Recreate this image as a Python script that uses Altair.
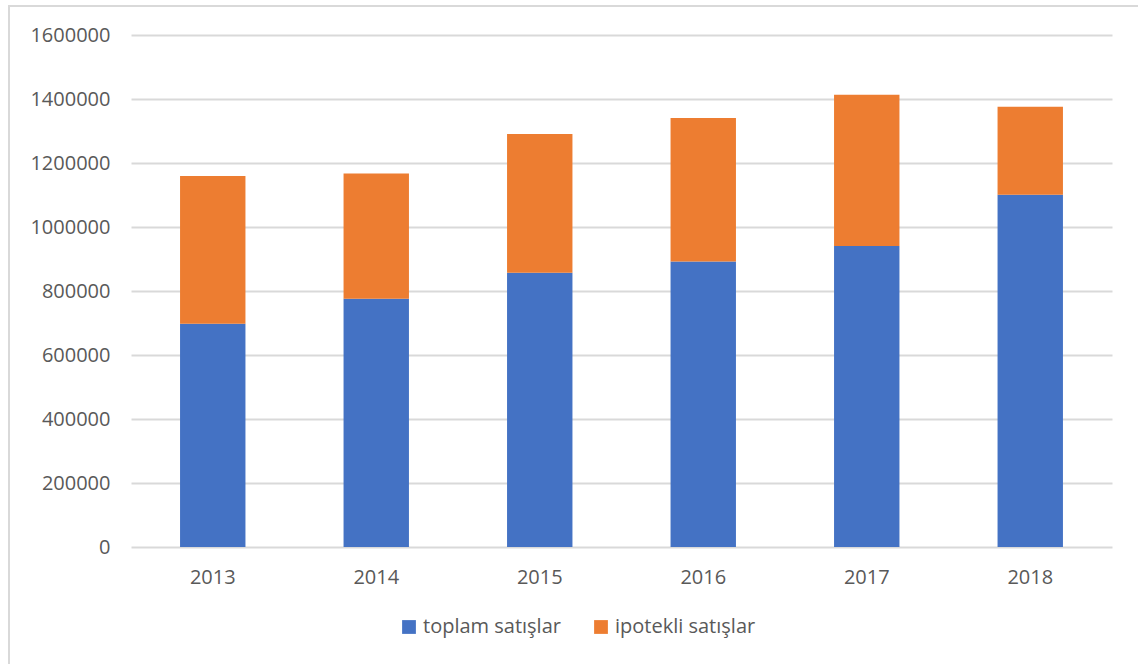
import altair as alt
import pandas as pd

# Yearly sales: total (bottom) and mortgaged (stacked on top)
years = ["2013", "2014", "2015", "2016", "2017", "2018"]
toplam = [698000, 776000, 857000, 892000, 941000, 1101000]
ipotekli = [461000, 391000, 434000, 449000, 472000, 275000]

series_names = ["toplam satışlar", "ipotekli satışlar"]
colors = ["#4472C4", "#ED7D31"]

rows = []
for y, t, i in zip(years, toplam, ipotekli):
    rows.append({"yil": y, "seri": series_names[0], "deger": t, "sira": 0})
    rows.append({"yil": y, "seri": series_names[1], "deger": i, "sira": 1})
df = pd.DataFrame(rows)

W, H = 981, 512
FONT = "Open Sans"

bars = alt.Chart(df).mark_bar().encode(
    x=alt.X("yil:N", title=None,
            scale=alt.Scale(paddingInner=0.6, paddingOuter=0.3),
            axis=alt.Axis(labelAngle=0, labelPadding=20, ticks=False, domain=False,
                          grid=False,
                          labelFontSize=20, labelColor="#595959", labelFont=FONT)),
    y=alt.Y("deger:Q", stack="zero", title=None,
            scale=alt.Scale(domain=[0, 1600000], nice=False),
            axis=alt.Axis(values=list(range(0, 1600001, 200000)), format="d",
                          labelPadding=21, ticks=False, domain=False,
                          labelFontSize=20, labelColor="#595959", labelFont=FONT,
                          gridColor="#d9d9d9", gridWidth=1.8)),
    color=alt.Color("seri:N", sort=series_names,
                    scale=alt.Scale(domain=series_names, range=colors),
                    legend=alt.Legend(title=None, orient="none", direction="horizontal",
                                      legendX=268, legendY=582,
                                      symbolType="square", symbolSize=190,
                                      symbolStrokeWidth=0, labelFontSize=20,
                                      labelColor="#595959", labelFont=FONT,
                                      labelOffset=4, columnPadding=30)),
    order=alt.Order("sira:Q"),
)

# Outer chart frame
frame = alt.Chart(pd.DataFrame({"k": [0]})).mark_rect(
    fill=None, stroke="#d9d9d9", strokeWidth=2
).encode(
    x=alt.value(-122), x2=alt.value(1200),
    y=alt.value(-29), y2=alt.value(700),
)

chart = alt.layer(frame, bars).properties(
    width=W, height=H,
    background="white",
    autosize=alt.AutoSizeParams(type="none"),
    padding={"left": 131, "top": 35, "right": 26, "bottom": 117},
).configure_view(stroke="transparent", strokeWidth=0)

chart.save("out.html", embed_options={"renderer": "svg", "actions": False})
